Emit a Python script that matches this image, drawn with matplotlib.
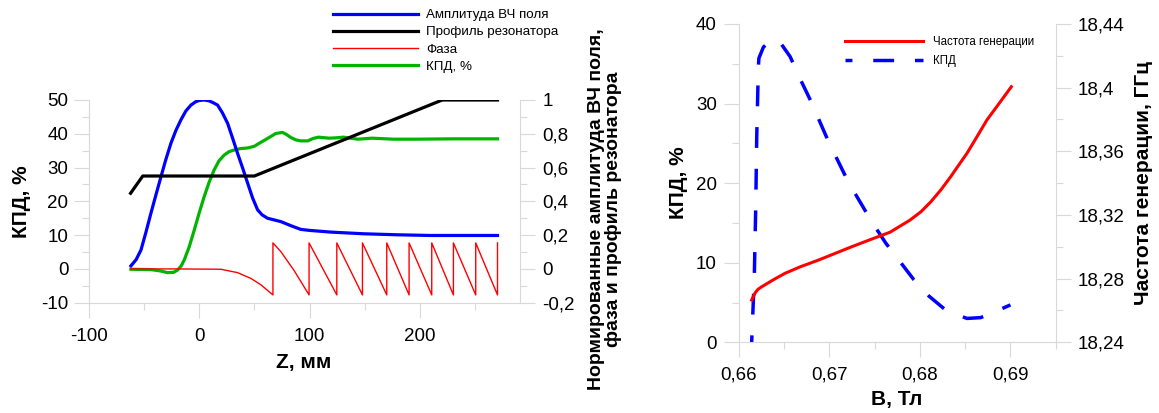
import matplotlib
matplotlib.use("Agg")
import matplotlib.pyplot as plt
from matplotlib.ticker import MultipleLocator, FuncFormatter

plt.rcParams['font.family'] = ['Liberation Sans', 'DejaVu Sans']

# ---- left panel data: z, mm ----
z_amp = [-61.7, -57, -52.6, -48, -43.6, -39, -34.5, -30, -25.5, -21, -16.5, -12, -7.4, -3, 0, 4.6, 9, 13,
         16.7, 21, 25.8, 30, 34.8, 39.5, 43.9, 48.4, 52.9, 57, 61.9, 68, 74, 83, 92, 100, 119, 149,
         179.5, 209.6, 240, 270]
amp = [0.018, 0.055, 0.112, 0.22, 0.33, 0.44, 0.546, 0.65, 0.744, 0.82, 0.882, 0.935, 0.97, 0.99, 0.997,
       1.0, 0.995, 0.983, 0.97, 0.925, 0.862, 0.78, 0.684, 0.595, 0.508, 0.42, 0.35, 0.32, 0.30,
       0.29, 0.28, 0.256, 0.234, 0.228, 0.218, 0.208, 0.202, 0.198, 0.198, 0.198]

z_prof = [-62, -51, 50, 220, 270]
prof = [0.448, 0.55, 0.55, 1.0, 1.0]

z_phase = [-62, -20, 0, 19.7, 34.8, 46.8, 55.9, 66.8, 66.8, 74, 86, 99.5, 99.5, 124.6, 124.6,
           147.8, 147.8, 169.8, 169.8, 190, 190, 210.5, 210.5, 230.1, 230.1, 250.3, 250.3, 270, 270]
phase = [0, 0, -0.001, -0.002, -0.022, -0.056, -0.094, -0.154, 0.154, 0.102, -0.01, -0.154, 0.154,
         -0.154, 0.154, -0.154, 0.154, -0.154, 0.154, -0.154, 0.154, -0.154, 0.154, -0.154, 0.154,
         -0.154, 0.154, -0.154, 0.154]

z_eff = [-61.7, -43.6, -35, -28.5, -23, -19.4, -16, -13.4, -9, -4.4, 0, 4.6, 9, 13.6, 18, 22.7, 27,
         31.7, 37.1, 43.8, 50, 52.9, 56, 59.7, 64.9, 69.4, 75.5, 79, 83, 87.5, 91.9, 98.4, 103, 108,
         117.7, 124, 130.6, 143.5, 156.5, 175.8, 194, 230, 270]
eff = [-0.1, -0.2, -0.6, -1.1, -1.0, -0.3, 1.0, 2.7, 6.5, 11.5, 16.5, 21.4, 25.6, 29.3, 32.0, 33.7,
       34.7, 35.2, 35.6, 35.8, 36.3, 36.9, 37.5, 38.2, 39.2, 40.1, 40.4, 39.8, 38.9, 38.2, 37.9,
       37.9, 38.6, 39.0, 38.7, 38.8, 39.0, 38.4, 38.7, 38.4, 38.4, 38.5, 38.5]

# ---- right panel data: B, T ----
b_eff = [0.6614, 0.66169, 0.66185, 0.66196, 0.66214, 0.6622, 0.6627, 0.6635, 0.66435, 0.66565,
         0.6668, 0.6679, 0.6699, 0.6721, 0.6747, 0.6762, 0.6793, 0.681, 0.683, 0.6852, 0.6867,
         0.6878, 0.69]
eff_b = [0, 8.2, 17, 25.8, 34.6, 35.7, 37.1, 37.9, 38.0, 35.9, 33.0, 30.4, 25.2, 20.1, 15.1, 12.5,
         7.9, 5.8, 3.9, 3.0, 3.1, 3.6, 4.7]

b_freq = [0.6614, 0.6616, 0.6618, 0.6621, 0.66251, 0.6638, 0.6651, 0.6668, 0.6688, 0.67248, 0.6745,
          0.6767, 0.6789, 0.6801, 0.6812, 0.6823, 0.6834, 0.6843, 0.6852, 0.6863, 0.6874, 0.6888, 0.6901]
freq = [18.2666, 18.2690, 18.2712, 18.2733, 18.2749, 18.2793, 18.2834, 18.2875, 18.2917, 18.3001,
        18.3045, 18.3092, 18.3168, 18.3220, 18.3283, 18.3357, 18.3441, 18.3515, 18.3588, 18.3692,
        18.3797, 18.3905, 18.4006]

GRAY = '#d9d9d9'


def comma(v, pos):
    return ('%g' % round(v, 6)).replace('.', ',')


def style(ax, sides):
    for s in ['top', 'left', 'right', 'bottom']:
        ax.spines[s].set_visible(s in sides)
        ax.spines[s].set_color(GRAY)
    ax.tick_params(which='major', length=10.5, width=0.8, color=GRAY, labelsize=13.5)
    ax.tick_params(which='minor', length=5, width=0.8, color=GRAY)


fig = plt.figure(figsize=(11.59, 4.13), dpi=100)

# left panel
ax1 = fig.add_axes([88.6 / 1159, 1 - 302.7 / 413, 431 / 1159, 202.7 / 413])
ax1r = ax1.twinx()
l4, = ax1.plot(z_eff, eff, color='#00b400', lw=2.3)
l1, = ax1r.plot(z_amp, amp, color='#0000ff', lw=2.3)
l2, = ax1r.plot(z_prof, prof, color='black', lw=2.3)
l3, = ax1r.plot(z_phase, phase, color='#ff0000', lw=1.0)

ax1.set_xlim(-100, 290)
ax1.set_ylim(-10, 50)
ax1r.set_ylim(-0.2, 1.0)
style(ax1, ['left', 'bottom'])
style(ax1r, ['right'])
ax1.xaxis.set_major_locator(MultipleLocator(100))
ax1.xaxis.set_minor_locator(MultipleLocator(50))
ax1.yaxis.set_major_locator(MultipleLocator(10))
ax1.yaxis.set_minor_locator(MultipleLocator(5))
ax1r.yaxis.set_major_locator(MultipleLocator(0.2))
ax1r.yaxis.set_minor_locator(MultipleLocator(0.1))
ax1.xaxis.set_major_formatter(FuncFormatter(comma))
ax1.yaxis.set_major_formatter(FuncFormatter(comma))
ax1r.yaxis.set_major_formatter(FuncFormatter(comma))
ax1.tick_params(axis='y', pad=4)
ax1.tick_params(axis='x', pad=8)
ax1r.tick_params(axis='y', pad=6)

ax1.set_xlabel('Z, мм', fontsize=15, fontweight='bold')
ax1.xaxis.set_label_coords(0.5, -0.25)
ax1.set_ylabel('КПД, %', fontsize=15, fontweight='bold')
ax1.yaxis.set_label_coords(-0.134, 0.5)
ax1r.set_ylabel('Нормированные амплитуда ВЧ поля,\nфаза и профиль резонатора',
                fontsize=14, fontweight='bold', linespacing=1.0)
ax1r.yaxis.set_label_coords(1.159, 0.462)

fig.legend([l1, l2, l3, l4], ['Амплитуда ВЧ поля', 'Профиль резонатора', 'Фаза', 'КПД, %'],
           loc='upper left', bbox_to_anchor=(332.7 / 1159, 1 - 9 / 413), frameon=False,
           fontsize=9.6, handlelength=6.4, handletextpad=0.6, labelspacing=0.36,
           borderpad=0, borderaxespad=0)

# right panel
ax2 = fig.add_axes([739 / 1159, 1 - 342.3 / 413, 316.7 / 1159, 318.3 / 413])
ax2r = ax2.twinx()
m2, = ax2.plot(b_eff, eff_b, color='#0000ff', lw=2.5, linestyle=(4, (6.0, 6.0)))
m1, = ax2r.plot(b_freq, freq, color='#ff0000', lw=2.2)

ax2.set_xlim(0.66, 0.695)
ax2.set_ylim(0, 40)
ax2r.set_ylim(18.24, 18.44)
style(ax2, ['left', 'bottom'])
style(ax2r, ['right'])
ax2.xaxis.set_major_locator(MultipleLocator(0.01))
ax2.xaxis.set_minor_locator(MultipleLocator(0.005))
ax2.yaxis.set_major_locator(MultipleLocator(10))
ax2.yaxis.set_minor_locator(MultipleLocator(5))
ax2r.yaxis.set_major_locator(MultipleLocator(0.04))
ax2r.yaxis.set_minor_locator(MultipleLocator(0.02))
ax2.xaxis.set_major_formatter(FuncFormatter(comma))
ax2r.yaxis.set_major_formatter(FuncFormatter(comma))
ax2.tick_params(axis='y', pad=5.5)
ax2.tick_params(axis='x', pad=7)
ax2r.tick_params(axis='y', pad=5.5)

ax2.set_xlabel('B, Тл', fontsize=15, fontweight='bold')
ax2.xaxis.set_label_coords(0.498, -0.15)
ax2.set_ylabel('КПД, %', fontsize=15, fontweight='bold')
ax2.yaxis.set_label_coords(-0.16, 0.5)
ax2r.set_ylabel('Частота генерации, ГГц', fontsize=15, fontweight='bold')
ax2r.yaxis.set_label_coords(1.247, 0.5)

fig.legend([m1, m2], ['Частота генерации', 'КПД'], loc='upper left',
           bbox_to_anchor=(845 / 1159, 1 - 36 / 413), frameon=False, fontsize=8.3,
           handlelength=6.8, handletextpad=0.8, labelspacing=0.65, borderpad=0, borderaxespad=0)

fig.savefig('out.png', dpi=100)
